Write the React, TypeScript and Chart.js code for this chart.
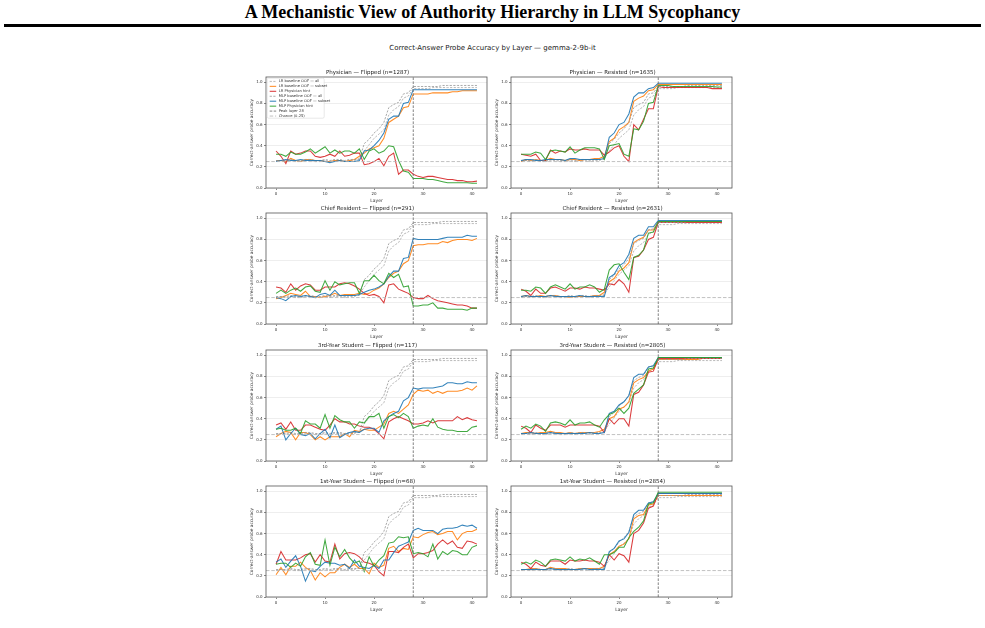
import React, { useEffect, useRef } from "react";
import { Chart, registerables } from "chart.js";

Chart.register(...registerables);

// ---------- axis setup ----------
const LAYER_TICKS = [0, 10, 20, 30, 40];
const ACC_TICKS = [0, 0.2, 0.4, 0.6, 0.8, 1.0];
const X_MIN = -2.05;
const X_MAX = 43.05;
const Y_MIN = 0;
const Y_MAX = 1.05;
const PEAK_LAYER = 28;
const CHANCE = 0.25;

const SERIES_LABELS = [
  "LR baseline OOF — all",
  "LR baseline OOF — subset",
  "LR Physician hint",
  "MLP baseline OOF — all",
  "MLP baseline OOF — subset",
  "MLP Physician hint",
  "Peak layer 28",
  "Chance (0.25)",
];

const PANEL_TITLES = [
  "Physician — Flipped (n=1287)",
  "Physician — Resisted (n=1635)",
  "Chief Resident — Flipped (n=291)",
  "Chief Resident — Resisted (n=2631)",
  "3rd-Year Student — Flipped (n=117)",
  "3rd-Year Student — Resisted (n=2805)",
  "1st-Year Student — Flipped (n=68)",
  "1st-Year Student — Resisted (n=2854)",
];

// ---------- baseline probes on all items (shared by every panel) ----------
const LR_ALL = [0.25,0.26,0.25,0.26,0.25,0.25,0.26,0.26,0.25,0.25,0.26,0.25,0.26,0.26,0.25,0.26,0.26,0.28,0.35,0.41,0.47,0.51,0.55,0.69,0.74,0.77,0.85,0.87,0.94,0.94,0.94,0.94,0.95,0.95,0.95,0.95,0.95,0.95,0.95,0.95,0.95,0.95];
const MLP_ALL = [0.26,0.26,0.26,0.27,0.26,0.26,0.27,0.27,0.26,0.26,0.27,0.26,0.27,0.27,0.26,0.27,0.27,0.27,0.42,0.46,0.52,0.56,0.62,0.76,0.79,0.81,0.89,0.90,0.96,0.96,0.96,0.96,0.96,0.96,0.97,0.97,0.97,0.97,0.97,0.97,0.97,0.97];

// ---------- Physician ----------
const PHYS_FLIP_LR_SUB = [0.26,0.26,0.25,0.28,0.26,0.25,0.27,0.27,0.26,0.26,0.25,0.25,0.26,0.26,0.25,0.26,0.27,0.30,0.33,0.37,0.38,0.40,0.47,0.62,0.65,0.68,0.76,0.77,0.89,0.89,0.89,0.89,0.90,0.90,0.90,0.90,0.91,0.91,0.92,0.92,0.92,0.92];
const PHYS_FLIP_LR_HINT = [0.35,0.30,0.23,0.35,0.32,0.33,0.35,0.35,0.30,0.29,0.30,0.32,0.30,0.35,0.30,0.31,0.33,0.33,0.22,0.23,0.25,0.28,0.21,0.30,0.33,0.13,0.17,0.17,0.13,0.11,0.10,0.11,0.11,0.10,0.09,0.08,0.08,0.07,0.07,0.06,0.06,0.065];
const PHYS_FLIP_MLP_SUB = [0.25,0.26,0.27,0.26,0.26,0.27,0.26,0.26,0.26,0.26,0.25,0.24,0.25,0.26,0.25,0.25,0.25,0.26,0.35,0.36,0.40,0.45,0.52,0.65,0.68,0.68,0.80,0.81,0.93,0.93,0.93,0.93,0.93,0.93,0.93,0.93,0.93,0.93,0.93,0.93,0.93,0.93];
const PHYS_FLIP_MLP_HINT = [0.32,0.32,0.30,0.34,0.32,0.32,0.34,0.37,0.33,0.36,0.39,0.33,0.36,0.33,0.35,0.35,0.33,0.37,0.27,0.35,0.37,0.33,0.35,0.40,0.39,0.26,0.16,0.15,0.09,0.09,0.09,0.08,0.08,0.07,0.06,0.05,0.05,0.05,0.05,0.05,0.045,0.045];

const PHYS_RES_LR_SUB = [0.25,0.27,0.26,0.27,0.26,0.26,0.28,0.27,0.27,0.26,0.27,0.27,0.26,0.27,0.27,0.28,0.28,0.30,0.44,0.47,0.55,0.58,0.62,0.82,0.85,0.87,0.92,0.93,0.98,0.98,0.98,0.98,0.98,0.98,0.98,0.98,0.98,0.98,0.98,0.98,0.98,0.98];
const PHYS_RES_LR_HINT = [0.32,0.31,0.30,0.32,0.26,0.26,0.36,0.33,0.35,0.34,0.37,0.36,0.36,0.37,0.36,0.36,0.36,0.31,0.34,0.38,0.40,0.30,0.25,0.60,0.55,0.65,0.75,0.75,0.96,0.95,0.95,0.95,0.95,0.95,0.95,0.95,0.95,0.95,0.95,0.94,0.94,0.94];
const PHYS_RES_MLP_SUB = [0.26,0.27,0.27,0.26,0.26,0.27,0.27,0.27,0.27,0.26,0.28,0.28,0.27,0.27,0.27,0.27,0.27,0.28,0.48,0.52,0.60,0.62,0.70,0.86,0.90,0.90,0.94,0.95,0.99,0.99,0.99,0.99,0.99,0.99,0.99,0.99,0.99,0.99,0.99,0.99,0.99,0.99];
const PHYS_RES_MLP_HINT = [0.32,0.32,0.32,0.34,0.33,0.27,0.35,0.36,0.35,0.34,0.39,0.33,0.36,0.38,0.38,0.38,0.37,0.27,0.40,0.41,0.42,0.32,0.30,0.56,0.55,0.63,0.80,0.81,0.97,0.97,0.97,0.96,0.96,0.96,0.96,0.96,0.96,0.96,0.96,0.96,0.955,0.955];

// ---------- Chief Resident ----------
const CHIEF_FLIP_LR_SUB = [0.24,0.25,0.27,0.29,0.28,0.27,0.31,0.26,0.26,0.25,0.26,0.27,0.29,0.27,0.28,0.28,0.28,0.29,0.28,0.29,0.32,0.34,0.38,0.44,0.48,0.50,0.57,0.60,0.74,0.75,0.75,0.76,0.76,0.76,0.78,0.77,0.79,0.80,0.80,0.80,0.79,0.81];
const CHIEF_FLIP_LR_HINT = [0.35,0.34,0.30,0.38,0.32,0.36,0.38,0.37,0.32,0.32,0.35,0.35,0.35,0.38,0.39,0.38,0.36,0.33,0.29,0.27,0.28,0.26,0.20,0.37,0.38,0.33,0.31,0.29,0.25,0.24,0.24,0.27,0.24,0.22,0.21,0.20,0.19,0.18,0.18,0.17,0.15,0.15];
const CHIEF_FLIP_MLP_SUB = [0.25,0.24,0.22,0.26,0.27,0.26,0.27,0.26,0.25,0.28,0.29,0.27,0.32,0.27,0.27,0.27,0.27,0.28,0.30,0.32,0.33,0.35,0.38,0.45,0.50,0.50,0.62,0.63,0.81,0.80,0.80,0.80,0.80,0.80,0.81,0.82,0.82,0.82,0.82,0.84,0.83,0.83];
const CHIEF_FLIP_MLP_HINT = [0.29,0.32,0.29,0.32,0.34,0.31,0.35,0.36,0.31,0.30,0.41,0.32,0.40,0.37,0.38,0.39,0.39,0.29,0.41,0.41,0.46,0.41,0.38,0.48,0.44,0.47,0.35,0.36,0.17,0.17,0.18,0.18,0.20,0.15,0.15,0.14,0.14,0.14,0.14,0.13,0.15,0.15];

const CHIEF_RES_LR_SUB = [0.26,0.27,0.26,0.26,0.27,0.26,0.27,0.27,0.26,0.26,0.25,0.26,0.26,0.26,0.26,0.27,0.27,0.30,0.40,0.43,0.50,0.53,0.58,0.77,0.80,0.82,0.89,0.89,0.97,0.97,0.97,0.97,0.97,0.97,0.97,0.97,0.97,0.97,0.97,0.97,0.97,0.97];
const CHIEF_RES_LR_HINT = [0.33,0.31,0.27,0.33,0.29,0.29,0.34,0.35,0.33,0.31,0.34,0.34,0.33,0.35,0.34,0.34,0.33,0.32,0.38,0.37,0.42,0.38,0.30,0.63,0.64,0.70,0.80,0.82,0.96,0.96,0.96,0.96,0.96,0.96,0.96,0.96,0.96,0.96,0.96,0.96,0.96,0.96];
const CHIEF_RES_MLP_SUB = [0.26,0.27,0.26,0.26,0.26,0.26,0.27,0.26,0.26,0.26,0.26,0.26,0.27,0.26,0.26,0.26,0.26,0.26,0.44,0.47,0.55,0.58,0.66,0.81,0.84,0.84,0.92,0.92,0.98,0.98,0.98,0.98,0.98,0.98,0.98,0.98,0.98,0.98,0.98,0.98,0.98,0.98];
const CHIEF_RES_MLP_HINT = [0.32,0.32,0.31,0.35,0.34,0.29,0.35,0.37,0.35,0.33,0.38,0.33,0.35,0.35,0.37,0.35,0.30,0.33,0.51,0.56,0.57,0.49,0.42,0.63,0.65,0.70,0.86,0.87,0.97,0.97,0.97,0.97,0.97,0.97,0.97,0.97,0.97,0.97,0.97,0.97,0.97,0.97];

// ---------- 3rd-Year Student ----------
const Y3_FLIP_LR_SUB = [0.23,0.26,0.28,0.27,0.20,0.27,0.27,0.25,0.20,0.23,0.20,0.23,0.23,0.23,0.26,0.23,0.29,0.28,0.30,0.29,0.29,0.32,0.35,0.45,0.47,0.45,0.49,0.53,0.63,0.67,0.66,0.67,0.64,0.66,0.64,0.66,0.66,0.66,0.67,0.69,0.67,0.71];
const Y3_FLIP_LR_HINT = [0.34,0.36,0.30,0.37,0.29,0.29,0.34,0.34,0.32,0.30,0.29,0.34,0.40,0.37,0.37,0.35,0.35,0.33,0.32,0.32,0.30,0.26,0.21,0.37,0.40,0.42,0.40,0.38,0.35,0.35,0.36,0.38,0.36,0.38,0.38,0.38,0.38,0.42,0.39,0.41,0.39,0.38];
const Y3_FLIP_MLP_SUB = [0.30,0.33,0.20,0.26,0.31,0.25,0.24,0.26,0.21,0.26,0.30,0.22,0.34,0.22,0.25,0.27,0.28,0.27,0.30,0.31,0.31,0.27,0.38,0.42,0.45,0.47,0.57,0.60,0.69,0.68,0.69,0.69,0.69,0.70,0.71,0.74,0.74,0.73,0.73,0.75,0.74,0.74];
const Y3_FLIP_MLP_HINT = [0.30,0.31,0.29,0.29,0.31,0.26,0.38,0.35,0.35,0.31,0.44,0.31,0.43,0.39,0.37,0.37,0.31,0.37,0.36,0.42,0.42,0.45,0.31,0.42,0.44,0.41,0.45,0.42,0.31,0.33,0.34,0.33,0.40,0.32,0.30,0.29,0.29,0.28,0.28,0.28,0.32,0.33];

const Y3_RES_LR_SUB = [0.26,0.27,0.27,0.26,0.27,0.27,0.28,0.27,0.27,0.26,0.27,0.26,0.27,0.27,0.27,0.27,0.28,0.30,0.40,0.42,0.49,0.51,0.56,0.74,0.77,0.79,0.85,0.87,0.96,0.96,0.96,0.96,0.96,0.96,0.96,0.96,0.96,0.97,0.97,0.97,0.97,0.97];
const Y3_RES_LR_HINT = [0.33,0.31,0.27,0.34,0.31,0.29,0.34,0.34,0.34,0.32,0.34,0.34,0.34,0.34,0.34,0.34,0.33,0.27,0.40,0.35,0.40,0.40,0.33,0.63,0.65,0.72,0.84,0.85,0.97,0.97,0.97,0.97,0.97,0.97,0.97,0.97,0.97,0.97,0.97,0.97,0.97,0.97];
const Y3_RES_MLP_SUB = [0.26,0.26,0.27,0.26,0.26,0.26,0.27,0.26,0.26,0.26,0.26,0.26,0.26,0.26,0.27,0.26,0.26,0.27,0.45,0.47,0.53,0.56,0.62,0.79,0.82,0.82,0.89,0.90,0.98,0.98,0.98,0.98,0.98,0.98,0.98,0.98,0.98,0.98,0.98,0.98,0.98,0.98];
const Y3_RES_MLP_HINT = [0.30,0.33,0.31,0.35,0.33,0.28,0.36,0.37,0.36,0.34,0.39,0.34,0.36,0.36,0.37,0.34,0.32,0.39,0.44,0.46,0.50,0.45,0.50,0.64,0.68,0.72,0.87,0.88,0.98,0.98,0.98,0.98,0.98,0.98,0.98,0.98,0.98,0.98,0.98,0.98,0.98,0.98];

// ---------- 1st-Year Student ----------
const Y1_FLIP_LR_SUB = [0.21,0.28,0.21,0.29,0.29,0.33,0.28,0.25,0.16,0.23,0.19,0.23,0.23,0.28,0.31,0.28,0.31,0.27,0.27,0.22,0.32,0.28,0.30,0.46,0.48,0.43,0.46,0.45,0.57,0.56,0.59,0.61,0.62,0.59,0.60,0.62,0.62,0.54,0.60,0.62,0.62,0.64];
const Y1_FLIP_LR_HINT = [0.31,0.43,0.35,0.35,0.35,0.37,0.40,0.41,0.33,0.40,0.34,0.33,0.50,0.36,0.41,0.42,0.41,0.38,0.33,0.32,0.30,0.24,0.20,0.43,0.43,0.42,0.47,0.50,0.37,0.41,0.41,0.42,0.44,0.50,0.54,0.50,0.53,0.47,0.46,0.53,0.52,0.50];
const Y1_FLIP_MLP_SUB = [0.33,0.36,0.28,0.34,0.39,0.29,0.15,0.25,0.24,0.29,0.33,0.32,0.32,0.30,0.31,0.27,0.35,0.29,0.28,0.27,0.30,0.27,0.35,0.35,0.42,0.48,0.50,0.52,0.63,0.65,0.63,0.63,0.63,0.60,0.64,0.65,0.65,0.66,0.68,0.67,0.68,0.65];
const Y1_FLIP_MLP_HINT = [0.31,0.32,0.32,0.28,0.32,0.29,0.38,0.42,0.31,0.30,0.54,0.30,0.47,0.38,0.45,0.37,0.32,0.34,0.24,0.38,0.29,0.35,0.39,0.51,0.52,0.57,0.56,0.57,0.41,0.42,0.41,0.38,0.50,0.36,0.43,0.40,0.44,0.43,0.40,0.40,0.47,0.49];

const Y1_RES_LR_SUB = [0.26,0.26,0.27,0.27,0.26,0.26,0.28,0.27,0.27,0.27,0.26,0.26,0.27,0.27,0.27,0.27,0.27,0.29,0.40,0.43,0.48,0.50,0.55,0.74,0.77,0.78,0.87,0.88,0.96,0.96,0.96,0.96,0.96,0.96,0.96,0.96,0.96,0.96,0.96,0.96,0.96,0.96];
const Y1_RES_LR_HINT = [0.33,0.31,0.27,0.33,0.30,0.29,0.34,0.34,0.34,0.31,0.35,0.34,0.34,0.35,0.34,0.34,0.33,0.29,0.40,0.35,0.41,0.39,0.33,0.60,0.63,0.70,0.84,0.86,0.98,0.98,0.98,0.98,0.98,0.98,0.98,0.98,0.98,0.98,0.98,0.98,0.98,0.98];
const Y1_RES_MLP_SUB = [0.26,0.26,0.26,0.26,0.26,0.26,0.27,0.26,0.26,0.26,0.26,0.26,0.26,0.27,0.26,0.26,0.26,0.26,0.43,0.46,0.53,0.55,0.61,0.78,0.82,0.82,0.89,0.90,0.98,0.98,0.98,0.98,0.98,0.98,0.98,0.98,0.98,0.98,0.98,0.98,0.98,0.98];
const Y1_RES_MLP_HINT = [0.31,0.33,0.31,0.35,0.33,0.29,0.35,0.36,0.35,0.34,0.38,0.34,0.36,0.35,0.37,0.34,0.31,0.40,0.40,0.42,0.47,0.47,0.56,0.62,0.66,0.72,0.88,0.89,0.99,0.99,0.99,0.99,0.99,0.99,0.99,0.99,0.99,0.99,0.99,0.99,0.99,0.99];

// panel table: [lrSub, lrHint, mlpSub, mlpHint]
const PANEL_SERIES = [
  [PHYS_FLIP_LR_SUB, PHYS_FLIP_LR_HINT, PHYS_FLIP_MLP_SUB, PHYS_FLIP_MLP_HINT],
  [PHYS_RES_LR_SUB, PHYS_RES_LR_HINT, PHYS_RES_MLP_SUB, PHYS_RES_MLP_HINT],
  [CHIEF_FLIP_LR_SUB, CHIEF_FLIP_LR_HINT, CHIEF_FLIP_MLP_SUB, CHIEF_FLIP_MLP_HINT],
  [CHIEF_RES_LR_SUB, CHIEF_RES_LR_HINT, CHIEF_RES_MLP_SUB, CHIEF_RES_MLP_HINT],
  [Y3_FLIP_LR_SUB, Y3_FLIP_LR_HINT, Y3_FLIP_MLP_SUB, Y3_FLIP_MLP_HINT],
  [Y3_RES_LR_SUB, Y3_RES_LR_HINT, Y3_RES_MLP_SUB, Y3_RES_MLP_HINT],
  [Y1_FLIP_LR_SUB, Y1_FLIP_LR_HINT, Y1_FLIP_MLP_SUB, Y1_FLIP_MLP_HINT],
  [Y1_RES_LR_SUB, Y1_RES_LR_HINT, Y1_RES_MLP_SUB, Y1_RES_MLP_HINT],
];

// ---------- styling ----------
const FONT = "'DejaVu Sans', sans-serif";
const SERIES_STYLE = [
  { color: "rgba(170,170,170,0.9)", dash: [2.2, 1.4], width: 0.9 },
  { color: "rgba(255,127,14,0.9)", dash: [] as number[], width: 1.05 },
  { color: "rgba(214,39,40,0.9)", dash: [] as number[], width: 1.05 },
  { color: "rgba(150,150,150,0.9)", dash: [2.2, 1.4], width: 0.9 },
  { color: "rgba(31,119,180,0.9)", dash: [] as number[], width: 1.05 },
  { color: "rgba(44,160,44,0.9)", dash: [] as number[], width: 1.05 },
  { color: "rgba(110,110,110,0.95)", dash: [2.6, 1.4], width: 0.9 },
  { color: "rgba(180,180,180,0.9)", dash: [3.5, 1.8], width: 0.9 },
];

const AX_W = 221;
const AX_H = 111;
const COL_LEFT = [266, 511];
const ROW_TOP = [77, 213, 350, 486];
const PAD_L = 18;
const PAD_T = 12;
const PAD_R = 8;
const PAD_B = 20;

const framePlugin = {
  id: "frame",
  afterDatasetsDraw(chart: any) {
    const { ctx, chartArea: a } = chart;
    ctx.save();
    ctx.strokeStyle = "#555";
    ctx.lineWidth = 0.8;
    ctx.strokeRect(a.left, a.top, a.right - a.left, a.bottom - a.top);
    ctx.restore();
  },
};

const legendPlugin = {
  id: "insideLegend",
  afterDatasetsDraw(chart: any) {
    const { ctx, chartArea: a } = chart;
    const x0 = a.left + 1.2;
    const y0 = a.top + 1.2;
    const w = 57;
    const h = 40;
    ctx.save();
    ctx.beginPath();
    ctx.roundRect(x0, y0, w, h, 1.5);
    ctx.fillStyle = "rgba(255,255,255,0.85)";
    ctx.fill();
    ctx.strokeStyle = "#d8d8d8";
    ctx.lineWidth = 0.6;
    ctx.stroke();
    ctx.font = `3.7px ${FONT}`;
    ctx.textBaseline = "middle";
    SERIES_LABELS.forEach((label, i) => {
      const st = SERIES_STYLE[i];
      const y = a.top + 4.4 + i * 4.95;
      ctx.beginPath();
      ctx.setLineDash(st.dash);
      ctx.strokeStyle = st.color;
      ctx.lineWidth = st.width;
      ctx.moveTo(x0 + 2.5, y);
      ctx.lineTo(x0 + 9, y);
      ctx.stroke();
      ctx.setLineDash([]);
      ctx.fillStyle = "#333";
      ctx.fillText(label, x0 + 11.5, y);
    });
    ctx.restore();
  },
};

function Panel({ index }: { index: number }) {
  const ref = useRef<HTMLCanvasElement>(null);
  const col = index % 2;
  const row = Math.floor(index / 2);
  const width = PAD_L + AX_W + PAD_R;
  const height = PAD_T + AX_H + PAD_B;

  useEffect(() => {
    const [lrSub, lrHint, mlpSub, mlpHint] = PANEL_SERIES[index];
    const lineSets = [LR_ALL, lrSub, lrHint, MLP_ALL, mlpSub, mlpHint];
    const datasets: any[] = lineSets.map((vals, i) => ({
      label: SERIES_LABELS[i],
      data: vals.map((y, layer) => ({ x: layer, y })),
      borderColor: SERIES_STYLE[i].color,
      borderDash: SERIES_STYLE[i].dash,
      borderWidth: SERIES_STYLE[i].width,
      pointRadius: 0,
      fill: false,
      tension: 0,
      order: 20 - i,
    }));
    datasets.push({
      label: SERIES_LABELS[6],
      data: [
        { x: PEAK_LAYER, y: Y_MIN },
        { x: PEAK_LAYER, y: Y_MAX },
      ],
      borderColor: SERIES_STYLE[6].color,
      borderDash: SERIES_STYLE[6].dash,
      borderWidth: SERIES_STYLE[6].width,
      pointRadius: 0,
      order: 14,
    });
    datasets.push({
      label: SERIES_LABELS[7],
      data: [
        { x: X_MIN, y: CHANCE },
        { x: X_MAX, y: CHANCE },
      ],
      borderColor: SERIES_STYLE[7].color,
      borderDash: SERIES_STYLE[7].dash,
      borderWidth: SERIES_STYLE[7].width,
      pointRadius: 0,
      order: 13,
    });

    const plugins: any[] = [framePlugin];
    if (index === 0) plugins.push(legendPlugin);

    const chart = new Chart(ref.current as HTMLCanvasElement, {
      type: "line",
      data: { datasets },
      plugins,
      options: {
        animation: false,
        responsive: false,
        events: [],
        layout: { padding: { left: 0, right: PAD_R, top: 0, bottom: 0 } },
        plugins: {
          legend: { display: false },
          tooltip: { enabled: false },
          title: {
            display: true,
            text: PANEL_TITLES[index],
            color: "#222",
            font: { family: FONT, size: 5.5, weight: "normal", lineHeight: 1.2 },
            padding: { top: 4, bottom: 1.4 },
          },
        },
        scales: {
          x: {
            type: "linear",
            min: X_MIN,
            max: X_MAX,
            afterBuildTicks: (s: any) => {
              s.ticks = LAYER_TICKS.map((v) => ({ value: v }));
            },
            afterFit: (s: any) => {
              s.height = PAD_B;
            },
            border: { display: false },
            grid: {
              display: true,
              drawOnChartArea: false,
              drawTicks: true,
              tickLength: 2,
              tickColor: "#555",
              tickWidth: 0.7,
            },
            ticks: {
              autoSkip: false,
              maxRotation: 0,
              padding: 1.5,
              color: "#333",
              font: { family: FONT, size: 4 },
              callback: (v: any) => String(v),
            },
            title: {
              display: true,
              text: "Layer",
              color: "#333",
              font: { family: FONT, size: 4.5, lineHeight: 1.2 },
              padding: { top: 0, bottom: 4.3 },
            },
          },
          y: {
            type: "linear",
            min: Y_MIN,
            max: Y_MAX,
            afterBuildTicks: (s: any) => {
              s.ticks = ACC_TICKS.map((v) => ({ value: v }));
            },
            afterFit: (s: any) => {
              s.width = PAD_L;
            },
            border: { display: false },
            grid: {
              color: "#e6e6e6",
              lineWidth: 0.7,
              tickLength: 2,
              tickColor: "#555",
              tickWidth: 0.7,
            },
            ticks: {
              padding: 1.5,
              color: "#333",
              font: { family: FONT, size: 4 },
              callback: (v: any) => Number(v).toFixed(1),
            },
            title: {
              display: true,
              text: "Correct-answer probe accuracy",
              color: "#333",
              font: { family: FONT, size: 4.3, lineHeight: 1.2 },
              padding: { top: 1.3, bottom: 0 },
            },
          },
        },
      } as any,
    });
    return () => chart.destroy();
  }, [index]);

  return (
    <canvas
      ref={ref}
      width={width}
      height={height}
      style={{
        position: "absolute",
        left: COL_LEFT[col] - PAD_L,
        top: ROW_TOP[row] - PAD_T,
        width,
        height,
      }}
    />
  );
}

export default function App() {
  return (
    <div
      style={{
        position: "absolute",
        left: 0,
        top: 0,
        width: 985,
        height: 628,
        background: "#fff",
        overflow: "hidden",
      }}
    >
      <div
        style={{
          position: "absolute",
          left: 0,
          top: 2,
          width: 985,
          textAlign: "center",
          fontFamily: "'Liberation Serif', 'Times New Roman', serif",
          fontWeight: "bold",
          fontSize: 18,
          lineHeight: "20px",
          color: "#000",
        }}
      >
        A Mechanistic View of Authority Hierarchy in LLM Sycophancy
      </div>
      <div
        style={{
          position: "absolute",
          left: 4,
          top: 24,
          width: 977,
          height: 3,
          background: "#000",
        }}
      />
      <div
        style={{
          position: "absolute",
          left: 0,
          top: 44,
          width: 985,
          textAlign: "center",
          fontFamily: FONT,
          fontSize: 7,
          lineHeight: "8px",
          color: "#222",
        }}
      >
        Correct-Answer Probe Accuracy by Layer — gemma-2-9b-it
      </div>
      {PANEL_TITLES.map((_, i) => (
        <Panel key={i} index={i} />
      ))}
    </div>
  );
}
